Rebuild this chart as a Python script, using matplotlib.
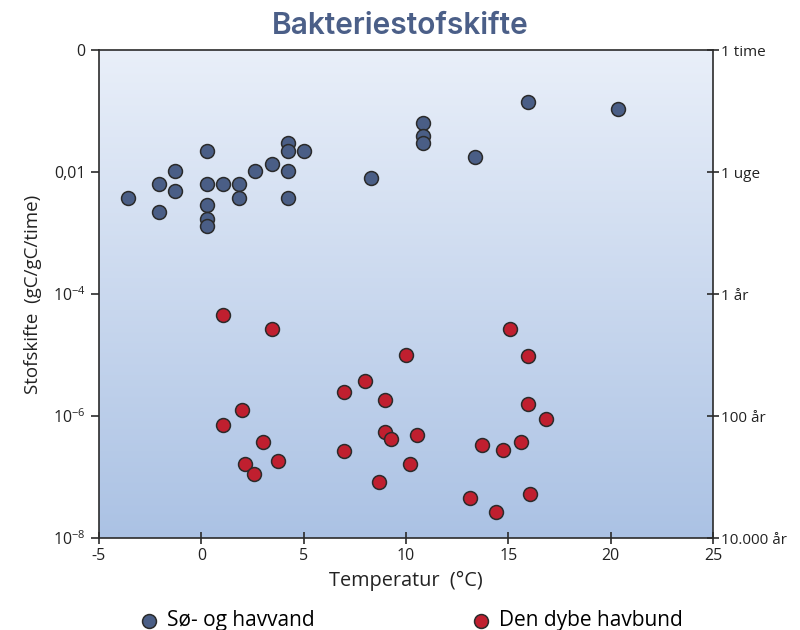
import numpy as np
import matplotlib
matplotlib.use("Agg")
import matplotlib.pyplot as plt
from matplotlib.colors import LinearSegmentedColormap

plt.rcParams["font.family"] = ["Open Sans", "DejaVu Sans"]
plt.rcParams["mathtext.fontset"] = "custom"
plt.rcParams["mathtext.rm"] = "Open Sans"
plt.rcParams["mathtext.it"] = "Open Sans"

# surface water (lakes and sea)
vand_temp = [-3.57, -2.06, -2.06, -1.28, -1.28, 0.26, 0.26, 0.26, 0.26, 0.26,
             1.04, 1.84, 1.84, 2.64, 3.44, 4.23, 4.23, 4.23, 4.23, 5.03,
             8.31, 10.81, 10.81, 10.81, 13.35, 15.96, 20.37]
vand_rate = [3.7e-3, 6.3e-3, 2.2e-3, 1.05e-2, 4.8e-3, 2.2e-2, 6.3e-3, 2.9e-3, 1.7e-3, 1.3e-3,
             6.3e-3, 6.3e-3, 3.7e-3, 1.05e-2, 1.35e-2, 2.95e-2, 2.2e-2, 1.05e-2, 3.7e-3, 2.2e-2,
             7.9e-3, 6.3e-2, 3.9e-2, 2.95e-2, 1.74e-2, 0.138, 0.107]

# deep sea floor
bund_temp = [1.05, 3.44, 6.97, 1.99, 1.05, 3.00, 6.97, 2.14, 3.76, 2.57,
             10.00, 7.99, 8.99, 8.99, 9.25, 10.55, 10.21, 8.68,
             15.07, 15.96, 15.96, 16.82, 13.70, 14.72, 15.63, 13.14, 16.04, 14.39]
bund_rate = [4.5e-5, 2.7e-5, 2.5e-6, 1.26e-6, 7.1e-7, 3.7e-7, 2.7e-7, 1.66e-7, 1.8e-7, 1.12e-7,
             1.0e-5, 3.7e-6, 1.86e-6, 5.4e-7, 4.2e-7, 4.9e-7, 1.66e-7, 8.3e-8,
             2.7e-5, 9.5e-6, 1.55e-6, 9.1e-7, 3.3e-7, 2.8e-7, 3.7e-7, 4.6e-8, 5.2e-8, 2.7e-8]

y_ticks = [1, 1e-2, 1e-4, 1e-6, 1e-8]
y_labels = ["0", "0,01", "10$^{-4}$", "10$^{-6}$", "10$^{-8}$"]
right_labels = ["1 time", "1 uge", "1 år", "100 år", "10.000 år"]
x_ticks = [-5, 0, 5, 10, 15, 20, 25]

blue = "#4a5e86"
red = "#c01f2f"
dark = "#2b2b2b"
title_col = "#4b5f88"

fig = plt.figure(figsize=(8, 6.3), dpi=100)
ax = fig.add_axes([0.12375, 0.146, 0.7675, 0.7746])

# background gradient
grad = LinearSegmentedColormap.from_list("bg", ["#abc2e4", "#e9eff9"])
ax.imshow(np.linspace(0, 1, 256).reshape(-1, 1), cmap=grad, origin="lower",
          extent=[0, 1, 0, 1], transform=ax.transAxes, aspect="auto", zorder=0)

ax.set_yscale("log")
ax.set_xlim(-5, 25)
ax.set_ylim(1e-8, 1)

ax.scatter(vand_temp, vand_rate, s=100, color=blue, edgecolor=dark, linewidth=1.1,
           zorder=3, label="Sø- og havvand")
ax.scatter(bund_temp, bund_rate, s=100, color=red, edgecolor=dark, linewidth=1.1,
           zorder=3, label="Den dybe havbund")

ax.set_yticks(y_ticks)
ax.set_yticklabels(y_labels, fontsize=11.5)
ax.yaxis.set_minor_locator(matplotlib.ticker.NullLocator())
ax.set_xticks(x_ticks)
ax.set_xticklabels([str(t) for t in x_ticks], fontsize=11.5)
ax.tick_params(axis="y", direction="out", length=6, width=1.2, color=dark, labelcolor="#222222")
ax.tick_params(axis="x", direction="inout", length=8, width=1.2, color=dark, labelcolor="#222222")

for sp in ax.spines.values():
    sp.set_color(dark)
    sp.set_linewidth(1.2)

ax2 = ax.twinx()
ax2.set_yscale("log")
ax2.set_ylim(1e-8, 1)
ax2.set_yticks(y_ticks)
ax2.set_yticklabels(right_labels, fontsize=11)
ax2.yaxis.set_minor_locator(matplotlib.ticker.NullLocator())
ax2.tick_params(axis="y", direction="inout", length=8, width=1.2, color=dark, labelcolor="#222222", pad=2)
for sp in ax2.spines.values():
    sp.set_visible(False)

ax.set_xlabel("Temperatur  (°C)", fontsize=14.3, color="#222222", labelpad=5)
ax.set_ylabel("Stofskifte  (gC/gC/time)", fontsize=13.5, color="#222222", labelpad=8)

fig.text(0.5, 0.958, "Bakteriestofskifte", ha="center", va="center",
         fontsize=21.5, fontweight="semibold", color=title_col, family=["Inter", "DejaVu Sans"])

fig.legend(loc="center", bbox_to_anchor=(0.511, 0.015), ncol=2, frameon=False,
           fontsize=15, columnspacing=7.3, handlelength=1.4, handletextpad=0.16,
           markerscale=1.0)

fig.savefig("out.png", dpi=100)
